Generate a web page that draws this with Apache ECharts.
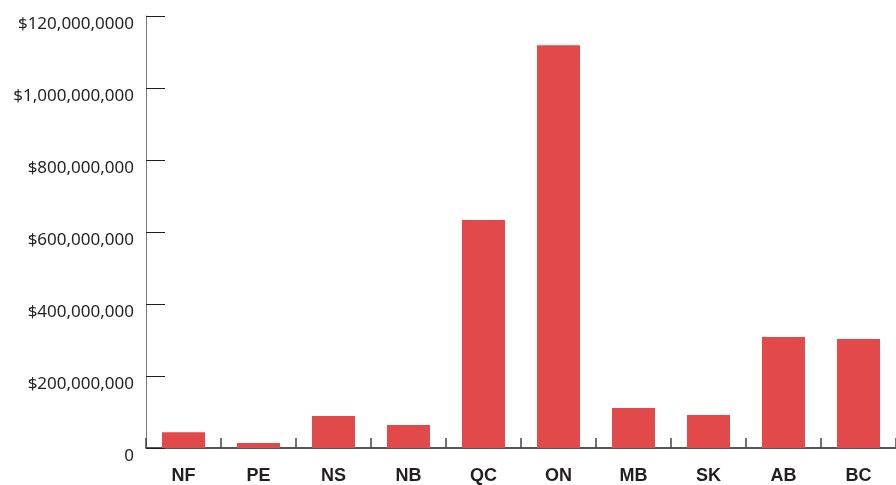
<!DOCTYPE html>
<html>
<head>
<meta charset="utf-8">
<script src="https://cdn.jsdelivr.net/npm/echarts@6/dist/echarts.min.js"></script>
<style>
    html, body { margin: 0; padding: 0; background: #fff; }
    #chart { width: 896px; height: 485px; }
</style>
</head>
<body>
<div id="chart"></div>
<script>
    // provinces and totals
    const provinces = ["NF", "PE", "NS", "NB", "QC", "ON", "MB", "SK", "AB", "BC"];
    const amounts = [44e6, 14e6, 89e6, 64e6, 633e6, 1119e6, 111e6, 92e6, 308e6, 303e6];
    const yTicks = [0, 200e6, 400e6, 600e6, 800e6, 1000e6, 1200e6];
    const yTickLabels = ["0", "$200,000,000", "$400,000,000", "$600,000,000",
        "$800,000,000", "$1,000,000,000", "$120,000,0000"];

    let myChart = echarts.init(document.getElementById('chart'));

    myChart.setOption({
        animation: false,
        grid: {
            left: 146,
            top: 16,
            width: 755,
            height: 432
        },
        xAxis: {
            type: "category",
            data: provinces,
            axisLine: {lineStyle: {color: "#231f20", width: 1.5}},
            axisTick: {show: true, inside: true, length: 10, lineStyle: {color: "#444", width: 1.5}},
            axisLabel: {
                margin: 19,
                fontFamily: "Liberation Sans",
                fontWeight: "bold",
                fontSize: 18,
                color: "#231f20"
            }
        },
        yAxis: {
            type: "value",
            min: yTicks[0],
            max: yTicks[yTicks.length - 1],
            interval: yTicks[1] - yTicks[0],
            axisLine: {show: true, lineStyle: {color: "#777", width: 1}},
            axisTick: {show: true, inside: true, length: 19, lineStyle: {color: "#231f20", width: 1}},
            splitLine: {show: false},
            axisLabel: {
                margin: 12,
                verticalAlign: "top",
                fontFamily: "Noto Sans",
                fontSize: 17,
                color: "#231f20",
                formatter: function (v) {
                    let i = yTicks.indexOf(v);
                    return i >= 0 ? yTickLabels[i] : "";
                }
            }
        },
        series: [{
            type: "bar",
            data: amounts,
            barWidth: 43,
            itemStyle: {color: "#e2494b"}
        }]
    });
</script>
</body>
</html>
